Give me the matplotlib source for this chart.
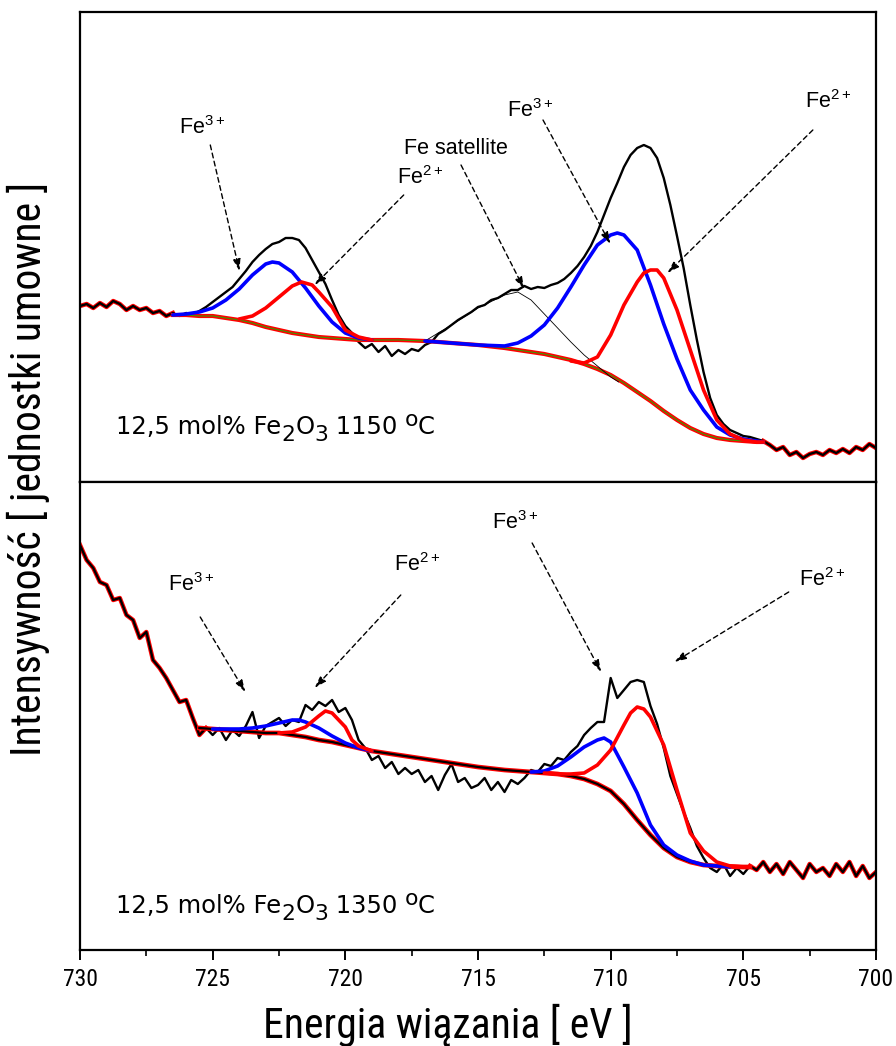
import numpy as np
import matplotlib
matplotlib.use("Agg")
import matplotlib.pyplot as plt
import matplotlib.transforms as mtransforms
from matplotlib import font_manager

# ---------------- data (intensity in arbitrary units) ----------------
energy = np.linspace(730, 700, 121)  # binding energy grid, 0.25 eV step

top_raw = [176, 178, 174, 179, 175, 181, 178, 172, 176, 172, 174, 169, 171, 166, 169,
           166, 169, 168, 171, 175, 180, 185, 190, 195, 203, 211, 220, 227, 233, 238,
           240, 244, 244, 242, 234, 222, 210, 198, 182, 167, 156, 149, 140, 134, 138,
           130, 136, 126, 132, 128, 133, 131, 137, 140, 148, 152, 157, 162, 166, 170,
           175, 177, 182, 184, 188, 192, 192, 196, 193, 195, 194, 197, 199, 203, 209,
           216, 225, 236, 250, 267, 284, 299, 315, 327, 334, 337, 334, 324, 304, 277,
           246, 214, 177, 142, 110, 84, 67, 58, 52, 49, 46, 45, 43, 41, 37, 32,
           35, 27, 30, 24, 28, 30, 27, 32, 29, 33, 29, 35, 32, 38, 34]

bot_raw = [405, 390, 382, 368, 365, 350, 352, 335, 330, 312, 318, 290, 282, 272, 260,
           248, 250, 232, 215, 222, 215, 222, 210, 220, 214, 224, 238, 212, 224, 228,
           232, 224, 230, 228, 245, 240, 248, 244, 250, 238, 242, 230, 210, 202, 190,
           194, 182, 188, 176, 182, 176, 180, 168, 174, 160, 175, 186, 168, 172, 162,
           165, 172, 160, 168, 158, 170, 166, 172, 180, 178, 186, 184, 192, 190, 198,
           204, 215, 222, 228, 228, 272, 252, 260, 268, 270, 268, 244, 226, 202, 174,
           156, 138, 122, 104, 92, 82, 78, 86, 74, 82, 76, 84, 80, 88, 78, 86,
           76, 88, 80, 72, 86, 78, 82, 74, 86, 78, 88, 74, 84, 72, 78]

# top panel (1150 C) fitted components
top_bg_e = [726.5, 726.0, 725.5, 725.0, 724.5, 724.0, 723.5, 723.0, 722.5, 722.0, 721.5,
            721.0, 720.5, 720.0, 719.5, 719.0, 718.0, 717.0, 716.0, 715.0, 714.0, 713.0,
            712.5, 712.0, 711.5, 711.0, 710.5, 710.0, 709.5, 709.0, 708.5, 708.0, 707.5,
            707.0, 706.5, 706.0, 705.5, 705.0, 704.5, 704.25]
top_bg = [167, 167, 166, 166, 164, 162, 159, 155, 152, 149, 147, 145, 144, 143, 142, 142,
          142, 141, 139, 137, 134, 130, 128, 125, 122, 118, 113, 107, 99, 90, 81, 71,
          62, 54, 48, 44, 42, 41, 40, 40]

top_p1_e = [726.5, 726.0, 725.5, 725.0, 724.5, 724.0, 723.5, 723.0, 722.75, 722.5, 722.0,
            721.5, 721.0, 720.5, 720.0, 719.5, 719.0]
top_p1 = [167, 168, 170, 174, 182, 193, 207, 218, 220, 219, 210, 194, 176, 160, 149, 144, 142]

top_p2_e = [724.0, 723.5, 723.0, 722.5, 722.0, 721.65, 721.25, 721.0, 720.5, 720.0, 719.5, 719.0]
top_p2 = [163, 166, 174, 185, 196, 200, 197, 190, 175, 152, 145, 142]

top_p3_e = [717.0, 716.0, 715.0, 714.0, 713.5, 713.0, 712.5, 712.0, 711.5, 711.0, 710.5,
            710.0, 709.75, 709.5, 709.0, 708.5, 708.0, 707.5, 707.0, 706.5, 706.0, 705.5,
            705.0, 704.5, 704.25]
top_p3 = [141, 139, 137, 136, 139, 146, 157, 174, 195, 217, 237, 247, 249, 247, 232, 197,
          158, 123, 92, 72, 55, 47, 43, 41, 40]

top_p4_e = [711.5, 711.0, 710.5, 710.0, 709.5, 709.0, 708.75, 708.5, 708.25, 708.0, 707.5,
            707.0, 706.5, 706.0, 705.5, 705.0, 704.5, 704.25]
top_p4 = [121, 119, 125, 147, 177, 200, 209, 212, 212, 204, 172, 132, 92, 62, 48, 42, 40, 40]

top_sat_e = [717.0, 716.0, 715.0, 714.0, 713.5, 713.0, 712.5, 712.0, 711.5, 711.0, 710.5,
             710.0, 709.7]
top_sat = [141, 157, 174, 187, 190, 182, 168, 154, 140, 127, 116, 105, 100]

# bottom panel (1350 C) fitted components
bot_bg_e = [725.5, 725.0, 724.0, 723.0, 722.5, 722.0, 721.5, 721.0, 720.5, 720.0, 719.5,
            719.0, 718.0, 717.0, 716.0, 715.0, 714.0, 713.0, 712.0, 711.5, 711.0, 710.5,
            710.0, 709.5, 709.0, 708.5, 708.0, 707.5, 707.0, 706.5, 706.0, 705.0, 704.75]
bot_bg = [222, 221, 219, 217, 217, 215, 213, 210, 208, 205, 202, 199, 195, 191, 187, 183,
          180, 178, 176, 174, 171, 166, 159, 146, 130, 115, 102, 93, 88, 85, 84, 83, 83]

bot_p1_e = [725.0, 724.0, 723.5, 723.0, 722.5, 722.0, 721.75, 721.5, 721.0, 720.5, 720.0,
            719.5, 719.0]
bot_p1 = [221, 221, 222, 224, 227, 230, 230, 228, 222, 214, 207, 202, 199]

bot_p2_e = [722.5, 722.0, 721.5, 721.0, 720.75, 720.5, 720.0, 719.75, 719.5, 719.0]
bot_p2 = [217, 218, 223, 234, 239, 237, 223, 210, 204, 199]

bot_p3_e = [713.0, 712.5, 712.0, 711.5, 711.0, 710.5, 710.25, 710.0, 709.5, 709.0, 708.5,
            708.0, 707.5, 707.0, 706.5, 706.0, 705.5]
bot_p3 = [178, 179, 184, 193, 203, 210, 212, 208, 183, 157, 125, 105, 95, 89, 85, 84, 83]

bot_p4_e = [712.5, 712.0, 711.5, 711.0, 710.5, 710.0, 709.5, 709.25, 709.0, 708.75, 708.5,
            708.0, 707.5, 707.0, 706.5, 706.0, 705.5, 705.0, 704.75]
bot_p4 = [177, 176, 176, 177, 185, 200, 225, 237, 243, 241, 233, 205, 160, 117, 99, 88, 84, 83, 83]

# annotations: label, text centre (E, I), arrow start, arrow end
top_notes = [("Fe$^{3+}$", (725.39, 354), (725.09, 337), (723.99, 211)),
             ("Fe$^{2+}$", (717.19, 304), (717.80, 287), (721.16, 197)),
             ("Fe satellite", (715.83, 333), (715.64, 317), (713.26, 193)),
             ("Fe$^{3+}$", (713.04, 371), (712.55, 362), (710.01, 238)),
             ("Fe$^{2+}$", (701.78, 380), (702.38, 352), (707.86, 209))]
bot_notes = [("Fe$^{3+}$", (725.81, 365), (725.47, 333), (723.77, 258)),
             ("Fe$^{2+}$", (717.27, 385), (717.91, 355), (721.16, 262)),
             ("Fe$^{3+}$", (713.60, 427), (712.96, 407), (710.36, 278)),
             ("Fe$^{2+}$", (702.01, 370), (703.29, 358), (707.60, 288))]

# sample labels as (piece, vertical shift in px, relative size)
top_label = [("12,5 mol% Fe", 0, 1.0), ("2", -7, 0.9), ("O", 0, 1.0), ("3", -7, 0.9),
             (" 1150", 0, 1.0), (" o", 8, 0.9), ("C", 0, 1.0)]
bot_label = [("12,5 mol% Fe", 0, 1.0), ("2", -7, 0.9), ("O", 0, 1.0), ("3", -7, 0.9),
             (" 1350", 0, 1.0), (" o", 8, 0.9), ("C", 0, 1.0)]

x_ticks = [730, 725, 720, 715, 710, 705, 700]

# ---------------- fonts ----------------
avail = {f.name for f in font_manager.fontManager.ttflist}


def pick(prefs, default):
    for p in prefs:
        if p in avail:
            return p
    return default


narrow = pick(["Arial Narrow", "Liberation Sans Narrow", "Roboto Condensed",
               "PT Sans Narrow", "Archivo Narrow", "Fira Sans Condensed",
               "IBM Plex Sans Condensed", "Encode Sans Condensed", "Open Sans Condensed",
               "Asap Condensed", "Barlow Semi Condensed"], "DejaVu Sans")
verd = pick(["Verdana", "DejaVu Sans"], "DejaVu Sans")
arial = pick(["Arial", "Liberation Sans"], "DejaVu Sans")

plt.rcParams["mathtext.default"] = "regular"
plt.rcParams["font.family"] = [verd, "DejaVu Sans"]

# ---------------- figure ----------------
fig = plt.figure(figsize=(8.96, 10.46), dpi=100)
L, R = 80 / 896, 876 / 896
ax_top = fig.add_axes([L, 1 - 482 / 1046, R - L, 470 / 1046])
ax_bot = fig.add_axes([L, 1 - 950 / 1046, R - L, 468 / 1046])

energy_arr = np.asarray(energy)


def draw_panel(ax, raw, left_cut, right_cut, bg_e, bg, peaks, bottom_style):
    raw = np.asarray(raw, dtype=float)
    left = energy_arr >= left_cut
    right = energy_arr <= right_cut
    ax.plot(energy_arr[left], raw[left], color="red", lw=3.2, zorder=2)
    ax.plot(energy_arr[right], raw[right], color="red", lw=3.2, zorder=2)
    ax.plot(energy_arr, raw, color="black", lw=1.7, zorder=3)
    if bottom_style:
        ax.plot(bg_e, bg, color="red", lw=3.4, zorder=4)
        ax.plot(bg_e, bg, color="black", lw=1.6, zorder=5)
    else:
        ax.plot(bg_e, bg, color="red", lw=3.0, zorder=4)
        ax.plot(bg_e, bg, color="#3a9a00", lw=0.8, zorder=5)
    for pe, pv, col in peaks:
        ax.plot(pe, pv, color=col, lw=2.6, zorder=6, solid_capstyle="round")


draw_panel(ax_top, top_raw, 726.5, 704.25, top_bg_e, top_bg,
           [(top_p1_e, top_p1, "blue"), (top_p2_e, top_p2, "red"),
            (top_p3_e, top_p3, "blue"), (top_p4_e, top_p4, "red")], False)
ax_top.plot(top_sat_e, top_sat, color="black", lw=0.6, zorder=5)

draw_panel(ax_bot, bot_raw, 725.25, 704.75, bot_bg_e, bot_bg,
           [(bot_p1_e, bot_p1, "blue"), (bot_p2_e, bot_p2, "red"),
            (bot_p3_e, bot_p3, "blue"), (bot_p4_e, bot_p4, "red")], True)

for ax, ymax in ((ax_top, 470), (ax_bot, 468)):
    ax.set_xlim(730, 700)
    ax.set_ylim(0, ymax)
    ax.set_yticks([])
    for s in ax.spines.values():
        s.set_linewidth(1.6)

ax_top.set_xticks([])
ax_bot.set_xticks(x_ticks)
ax_bot.set_xticks([727.5, 722.5, 717.5, 712.5, 707.5, 702.5], minor=True)
ax_bot.tick_params(axis="x", which="major", direction="out", length=7, width=1.4, pad=6)
ax_bot.tick_params(axis="x", which="minor", direction="out", length=4, width=1.2)
for lab in ax_bot.get_xticklabels():
    lab.set_fontfamily([narrow, "DejaVu Sans"])
    lab.set_fontsize(17 if narrow != "DejaVu Sans" else 15)


def add_notes(ax, notes):
    for text, tpos, start, end in notes:
        ax.text(tpos[0], tpos[1], text, ha="center", va="center",
                fontsize=15.5, family=[arial, "DejaVu Sans"], zorder=8)
        ax.annotate("", xy=end, xytext=start,
                    arrowprops=dict(arrowstyle="-|>,head_length=0.7,head_width=0.22",
                                    linestyle=(0, (3.5, 2.5)), lw=1.0, color="black",
                                    shrinkA=0, shrinkB=0), zorder=8)


add_notes(ax_top, top_notes)
add_notes(ax_bot, bot_notes)

renderer = fig.canvas.get_renderer()


def rich_text(ax, x, y, pieces, size):
    dx = 0.0
    for s, dy, scale in pieces:
        tr = mtransforms.offset_copy(ax.transData, fig=fig, x=dx, y=dy, units="dots")
        t = ax.text(x, y, s, fontsize=size * scale, ha="left", va="baseline",
                    transform=tr, zorder=8)
        dx += t.get_window_extent(renderer).width


rich_text(ax_top, 728.64, 48, top_label, 17.5)
rich_text(ax_bot, 728.64, 37, bot_label, 17.5)

lab_size = 30 if narrow != "DejaVu Sans" else 25
fig.text(0.5, 1 - 1025 / 1046, "Energia wiązania [ eV ]", ha="center", va="center",
         fontsize=lab_size, family=[narrow, "DejaVu Sans"])
fig.text(28 / 896, 1 - 469 / 1046, "Intensywność [ jednostki umowne ]", ha="center",
         va="center", rotation=90, fontsize=lab_size, family=[narrow, "DejaVu Sans"])

fig.savefig("out.png", dpi=100)
